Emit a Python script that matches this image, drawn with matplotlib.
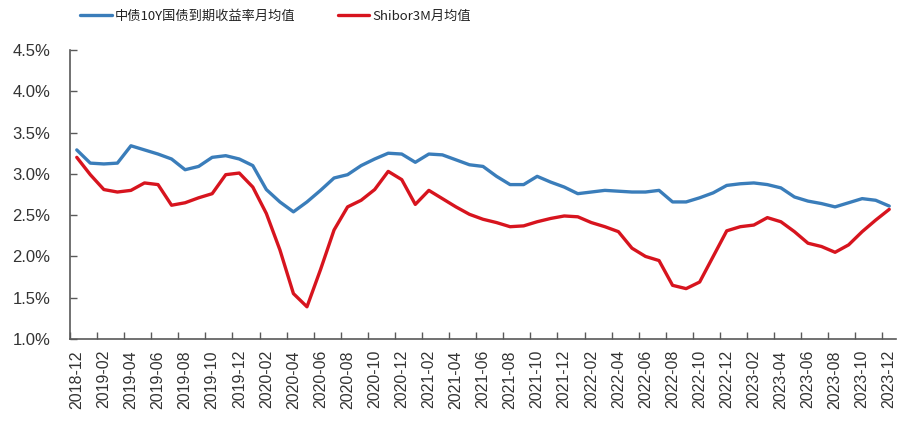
import matplotlib
matplotlib.use("Agg")
import matplotlib.pyplot as plt
from matplotlib.ticker import FuncFormatter, FixedLocator

plt.rcParams['font.family'] = ['Liberation Sans', 'DejaVu Sans']

months = [f"{y}-{m:02d}" for y, m in [(2018, 12)] + [(yy, mm) for yy in range(2019, 2024) for mm in range(1, 13)]]

cgb10y = [3.29, 3.13, 3.12, 3.13, 3.34, 3.29, 3.24, 3.18, 3.05, 3.09,
          3.20, 3.22, 3.18, 3.10, 2.81, 2.66, 2.54, 2.66, 2.80, 2.95,
          2.99, 3.10, 3.18, 3.25, 3.24, 3.14, 3.24, 3.23, 3.17, 3.11,
          3.09, 2.97, 2.87, 2.87, 2.97, 2.90, 2.84, 2.76, 2.78, 2.80,
          2.79, 2.78, 2.78, 2.80, 2.66, 2.66, 2.71, 2.77, 2.86, 2.88,
          2.89, 2.87, 2.83, 2.72, 2.67, 2.64, 2.60, 2.65, 2.70, 2.68,
          2.61]

shibor3m = [3.20, 2.99, 2.81, 2.78, 2.80, 2.89, 2.87, 2.62, 2.65, 2.71,
            2.76, 2.99, 3.01, 2.84, 2.52, 2.08, 1.55, 1.39, 1.84, 2.32,
            2.60, 2.68, 2.81, 3.03, 2.93, 2.63, 2.80, 2.70, 2.60, 2.51,
            2.45, 2.41, 2.36, 2.37, 2.42, 2.46, 2.49, 2.48, 2.41, 2.36,
            2.30, 2.10, 2.00, 1.95, 1.65, 1.61, 1.69, 2.00, 2.31, 2.36,
            2.38, 2.47, 2.42, 2.30, 2.16, 2.12, 2.05, 2.14, 2.30, 2.44,
            2.57]

series_names = ["中债10Y国债到期收益率月均值", "Shibor3M月均值"]
colors = ["#3A7DBA", "#D7141E"]

fig = plt.figure(figsize=(9.05, 4.23), dpi=100)
ax = fig.add_axes([70/905, (423-339)/423, (896-70)/905, (339-50)/423])

x = list(range(len(months)))
ax.plot(x, cgb10y, color=colors[0], lw=2.4, solid_capstyle='round', solid_joinstyle='round', label=series_names[0])
ax.plot(x, shibor3m, color=colors[1], lw=2.4, solid_capstyle='round', solid_joinstyle='round', label=series_names[1])

ax.set_xlim(-0.5, len(months) - 0.5)
ax.set_ylim(1.0, 4.5)
ax.set_yticks([1.0, 1.5, 2.0, 2.5, 3.0, 3.5, 4.0, 4.5])
ax.yaxis.set_major_formatter(FuncFormatter(lambda v, p: f"{v:.1f}%"))

ax.set_xticks(x[::2])
ax.set_xticklabels(months[::2], rotation=90)
ax.xaxis.set_minor_locator(FixedLocator([i - 0.5 for i in range(0, len(months) + 1, 2)]))
ax.tick_params(axis='x', which='major', length=0, pad=8, labelsize=11.5)
ax.tick_params(axis='x', which='minor', length=5, direction='in', color='#595959', width=1)
ax.tick_params(axis='y', which='major', length=5, direction='in', color='#595959', width=1,
               labelsize=12, pad=14)
for lab in ax.get_yticklabels() + ax.get_xticklabels():
    lab.set_color('#333333')

for s in ['top', 'right']:
    ax.spines[s].set_visible(False)
for s in ['left', 'bottom']:
    ax.spines[s].set_color('#595959')
    ax.spines[s].set_linewidth(1.2)

fig.legend(loc='upper left', bbox_to_anchor=(80/905, 1 - 10/423), ncol=2, frameon=False,
           prop={'family': ['Noto Sans CJK SC', 'DejaVu Sans'], 'size': 9.5},
           handlelength=2.4, handletextpad=0.25, columnspacing=3.2,
           borderpad=0, borderaxespad=0, labelcolor='#222222')

fig.savefig("out.png", dpi=100)
